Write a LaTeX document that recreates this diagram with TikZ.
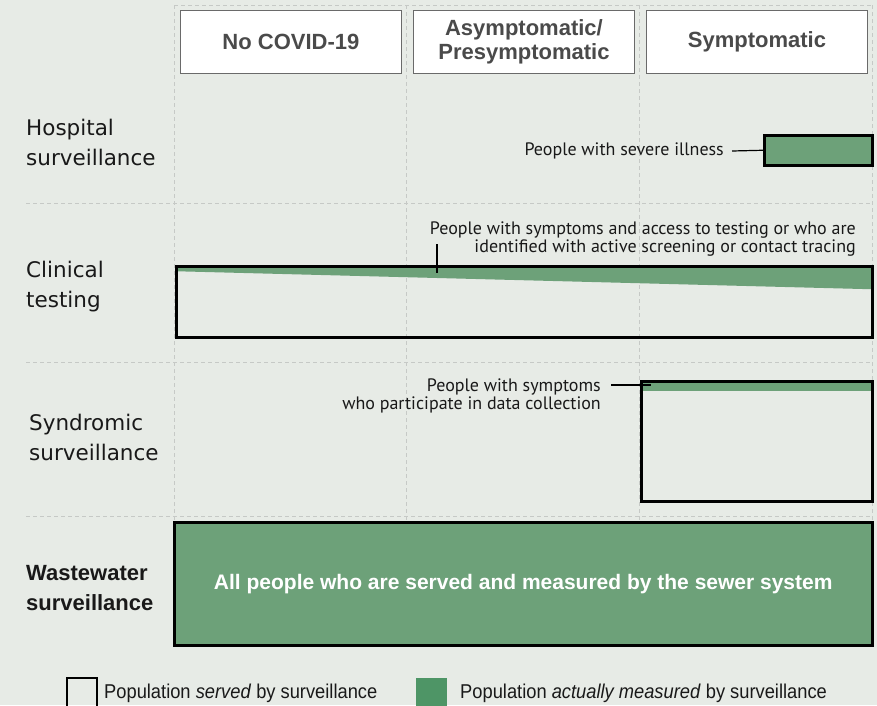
\documentclass[tikz,border=0pt]{standalone}
\usepackage{fontspec}
\setmainfont{Liberation Sans}
\newfontfamily\hdrfont{Liberation Sans}
\newfontfamily\rowfont{DejaVu Sans}
\newfontfamily\notefont{PT Sans}
\newfontfamily\legfont[FakeStretch=0.915]{Liberation Sans}
\definecolor{bgc}{HTML}{E7EBE6}
\definecolor{gridc}{HTML}{C6C9C6}
\definecolor{mgreen}{HTML}{6DA179}
\definecolor{lgreen}{HTML}{4E9566}
\definecolor{hdrtext}{HTML}{4A4A4A}
\definecolor{hdrline}{HTML}{6A6A6A}
\tikzset{
  gridline/.style={draw=gridc, dash pattern=on 4pt off 3pt, line width=0.9pt},
  hdr/.style={draw=hdrline, fill=white, line width=0.9pt, minimum width=221pt, minimum height=63pt,
    inner sep=0pt, anchor=north west, align=center, text=hdrtext,
    font=\hdrfont\bfseries\fontsize{22}{24}\selectfont},
  rowlabel/.style={anchor=west, align=left, inner sep=0pt, text=black!90,
    font=\rowfont\fontsize{21.5}{30}\selectfont},
  servbox/.style={draw=black, line width=2.5pt, inner sep=0pt, anchor=north west},
  measbox/.style={servbox, fill=mgreen},
  note/.style={inner sep=0pt, align=right, text=black!90, font=\notefont\fontsize{18}{18.5}\selectfont},
  leader/.style={draw=black, line width=1.2pt},
  legtext/.style={anchor=west, inner sep=0pt, text=black!90, font=\legfont\fontsize{20}{22}\selectfont}
}
\begin{document}
\begin{tikzpicture}[x=1pt, y=-1pt]
\useasboundingbox (0,0) rectangle (877,705);
\fill[bgc] (0,0) rectangle (877,705);

% grid
\foreach \gx in {174,406,639,872} \draw[gridline] (\gx,5) -- (\gx,646);
\draw[gridline] (174,5) -- (872,5);
\foreach \gy in {203,362,516} \draw[gridline] (26,\gy) -- (872,\gy);
\draw[gridline] (174,646) -- (872,646);

% headers
\node[hdr] (h1) at (180,10) {No COVID-19};
\node[hdr] (h2) at (413,10) {Asymptomatic/\\[0pt]Presymptomatic};
\node[hdr] (h3) at (646,10) {Symptomatic};

% row labels
\node[rowlabel] (r1) at (26,142) {Hospital\\surveillance};
\node[rowlabel] (r2) at (26,287) {Clinical\\testing};
\node[rowlabel] (r3) at (29,437) {Syndromic\\surveillance};
\node[rowlabel, font=\hdrfont\bfseries\fontsize{22}{30}\selectfont] (r4) at (26,588) {Wastewater\\surveillance};

% hospital
\node[measbox, minimum width=108pt, minimum height=30pt] (hosp) at (763,134) {};
\node[note, anchor=east] (hospnote) at (724,151) {People with severe illness};
\draw[leader] ([xshift=8pt]hospnote.east) -- (hosp.west);

% clinical
\node[servbox, minimum width=696pt, minimum height=71pt,
  path picture={\fill[mgreen] (path picture bounding box.north west) -- (path picture bounding box.north east)
    -- ([yshift=-23pt]path picture bounding box.north east) -- ([yshift=-5pt]path picture bounding box.north west) -- cycle;}
  ] (clin) at (175,265) {};
\node[note, anchor=south east] (clinnote) at (856,257) {People with symptoms and access to testing or who are\\identified with active screening or contact tracing};
\coordinate (cliptick) at (437,244);
\draw[leader] (cliptick) -- ++(0,29);

% syndromic
\node[servbox, minimum width=231pt, minimum height=120pt,
  path picture={\fill[mgreen] (path picture bounding box.north west) rectangle ([yshift=-10pt]path picture bounding box.north east);}
  ] (synd) at (640,380) {};
\node[note, anchor=east] (syndnote) at (601,396) {People with symptoms\\who participate in data collection};
\coordinate (syndlead) at (611,385);
\draw[leader] (syndlead) -- ++(40,0);

% wastewater
\node[measbox, minimum width=698pt, minimum height=123pt, text=white,
  font=\hdrfont\bfseries\fontsize{21}{24}\selectfont] (waste) at (173,521) {All people who are served and measured by the sewer system};

% legend
\draw[black, line width=1.6pt] (67,710) |- (97,678) -- (97,710);
\node[legtext] (legt1) at (104,693) {Population \textit{served} by surveillance};
\fill[lgreen] (416,678) rectangle (447,706);
\node[legtext] (legt2) at (460,693) {Population \textit{actually measured} by surveillance};
\end{tikzpicture}
\end{document}
